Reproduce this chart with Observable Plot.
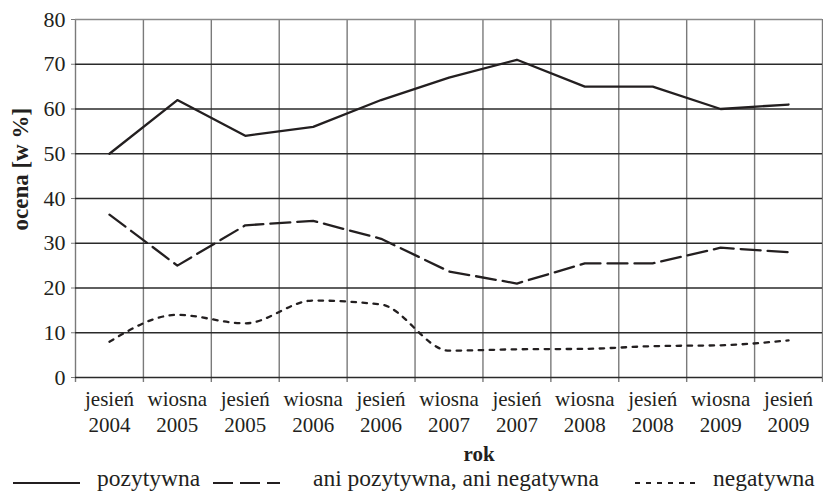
<!DOCTYPE html>
<html><head><meta charset="utf-8">
<script src="https://cdn.jsdelivr.net/npm/d3@7"></script>
<script src="https://cdn.jsdelivr.net/npm/@observablehq/plot@0.6"></script>
<style>
body{margin:0;background:#fff;font-family:"Liberation Serif","Tinos","DejaVu Serif",serif;color:#231f20;}
#chart{position:relative;width:823px;height:492px;overflow:hidden;}
#legend{position:absolute;left:0;top:470px;width:823px;height:22px;}
#legend span{position:absolute;top:-1.4px;font-size:23.5px;line-height:18px;white-space:nowrap;}
#legend svg{position:absolute;left:0;top:0;}
</style></head><body>
<div id="chart"><div id="legend"></div></div>
<script>
const categories = ["jesień\n2004","wiosna\n2005","jesień\n2005","wiosna\n2006","jesień\n2006","wiosna\n2007","jesień\n2007","wiosna\n2008","jesień\n2008","wiosna\n2009","jesień\n2009"];
const pozytywna = [50, 62, 54, 56, 62, 67, 71, 65, 65, 60, 61];
const aniPozytywnaAniNegatywna = [36.4, 25, 34, 35, 31, 23.7, 21, 25.5, 25.5, 29, 28];
const negatywna = [8, 14, 12.1, 17.2, 16.3, 6, 6.3, 6.4, 7, 7.2, 8.3];
const yTicks = [0, 10, 20, 30, 40, 50, 60, 70, 80];
const seriesNames = ["pozytywna", "ani pozytywna, ani negatywna", "negatywna"];
const yLabel = "ocena [w %]";
const xLabel = "rok";

const ink = "#231f20";
const serif = "Liberation Serif, Tinos, DejaVu Serif, serif";
const idx = categories.map((_, i) => i);
const bounds = d3.range(categories.length + 1).map(i => i - 0.5);

const chart = Plot.plot({
  width: 823, height: 470,
  marginTop: 19, marginBottom: 93, marginLeft: 75, marginRight: 1,
  style: {fontFamily: serif, fontSize: "21px", color: ink, background: "#fff"},
  x: {type: "linear", domain: [-0.5, categories.length - 0.5]},
  y: {domain: [0, 80]},
  marks: [
    Plot.ruleX(bounds, {x: d => d, stroke: "#7a7a7a", strokeWidth: 1.4, strokeOpacity: 1, insetBottom: -5}),
    Plot.ruleY(yTicks.filter(v => v < 80), {stroke: "#2a2a2a", strokeWidth: 1.3, strokeOpacity: 1}),
    Plot.ruleY([80], {stroke: "#8a8a8a", strokeWidth: 1.4, strokeOpacity: 1}),
    Plot.axisY({ticks: yTicks, tickSize: 4, tickPadding: 6, fontSize: 22, stroke: "#7a7a7a", fill: ink, label: null}),
    Plot.axisX({ticks: idx, tickSize: 0, tickPadding: 10, tickFormat: i => categories[i], lineHeight: 1.24, fontSize: 21, fill: ink, label: null}),
    Plot.text([yLabel], {frameAnchor: "left", rotate: -90, dx: -55, dy: 32, fontWeight: "bold", fontSize: 23, fill: ink}),
    Plot.text([xLabel], {frameAnchor: "bottom", dx: 30, dy: 83.5, fontWeight: "bold", fontSize: 21, fill: ink}),
    Plot.lineY(negatywna, {stroke: ink, strokeWidth: 2.3, strokeDasharray: "4.5,6.5", curve: "monotone-x"}),
    Plot.lineY(aniPozytywnaAniNegatywna, {stroke: ink, strokeWidth: 2.3, strokeDasharray: "20,7"}),
    Plot.lineY(pozytywna, {stroke: ink, strokeWidth: 2.3})
  ]
});
document.getElementById("chart").prepend(chart);

// legend below the chart
const legend = document.getElementById("legend");
const ns = "http://www.w3.org/2000/svg";
const sw = document.createElementNS(ns, "svg");
sw.setAttribute("width", 823); sw.setAttribute("height", 22);
const swatches = [
  {x1: 13, x2: 80, dash: null},
  {x1: 213, x2: 280, dash: "20,7"},
  {x1: 635, x2: 698, dash: "5,6"}
];
swatches.forEach(s => {
  const l = document.createElementNS(ns, "line");
  l.setAttribute("x1", s.x1); l.setAttribute("x2", s.x2);
  l.setAttribute("y1", 13); l.setAttribute("y2", 13);
  l.setAttribute("stroke", ink); l.setAttribute("stroke-width", 2.2);
  if (s.dash) l.setAttribute("stroke-dasharray", s.dash);
  sw.appendChild(l);
});
legend.appendChild(sw);
const textX = [97, 313, 713];
seriesNames.forEach((n, i) => {
  const sp = document.createElement("span");
  sp.textContent = n;
  sp.style.left = textX[i] + "px";
  legend.appendChild(sp);
});
</script>
</body></html>
